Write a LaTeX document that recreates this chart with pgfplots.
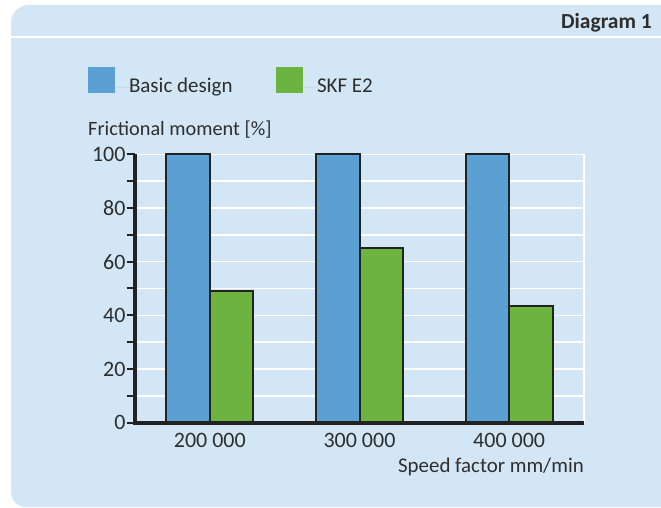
\documentclass[border=0pt]{standalone}
\usepackage{fontspec}
\setmainfont{Carlito}
\usepackage{pgfplots}
\pgfplotsset{compat=1.18}
\definecolor{panel}{HTML}{D2E6F5}
\definecolor{barblue}{HTML}{5AA0D2}
\definecolor{bargreen}{HTML}{6DB33F}
\definecolor{txt}{HTML}{2E2E2E}
\definecolor{axline}{HTML}{222222}
\pgfplotsset{sqlegend/.style={legend image code/.code={%
  \fill[##1, draw=none] (0pt,-5pt) rectangle (27pt,21pt);
  \path[draw=none] (0pt,0pt) -- (41pt,0pt);}}}
\begin{document}
\begin{tikzpicture}[x=1pt,y=1pt]
\fill[white] (0,0) rectangle (661,508);
\fill[panel] (661,1) -- (26,1) arc[start angle=270,end angle=180,radius=15] -- (11,485) arc[start angle=180,end angle=90,radius=18] -- (661,503) -- cycle;
\fill[white] (11,470) rectangle (661,472);
\node[anchor=base east, font=\fontsize{21.5}{24}\selectfont\bfseries, text=txt, inner sep=0pt] at (652,479.7) {Diagram 1};
\begin{axis}[
  clip=false,
  at={(135pt,85.3pt)}, anchor=south west,
  scale only axis, width=449pt, height=268.4pt,
  xmin=-0.5, xmax=2.5, ymin=0, ymax=100,
  ybar=0pt, bar width=0.29,
  axis x line*=bottom, axis y line*=left,
  axis line style={line width=3.8pt, draw=axline, -},
  after end axis/.code={\draw[line width=3.8pt, draw=axline] (rel axis cs:0,1) -- (rel axis cs:0,0) -- (rel axis cs:1,0);},
  /pgf/number format/assume math mode=true,
  ytick={0,20,...,100}, minor ytick={10,30,50,70,90},
  tick align=outside, major tick length=8.3pt, minor tick length=3.3pt,
  ytick style={line width=2pt, draw=axline},
  minor y tick style={line width=2pt, draw=axline},
  extra y ticks={10,20,...,100}, extra y tick labels={},
  extra y tick style={ymajorgrids=true, tick style={draw=none}, major grid style={white, line width=1.5pt}},
  xtick={0,1,2}, xticklabels={200 000,300 000,400 000},
  x tick style={draw=none},
  extra x ticks={2.5}, extra x tick labels={},
  extra x tick style={xmajorgrids=true, major grid style={white, line width=1.5pt}},
  tick label style={font=\fontsize{22}{24}\selectfont, text=txt},
  yticklabel style={inner sep=1pt},
  xticklabel style={inner sep=0pt, yshift=-2pt},
  ylabel={Frictional moment [\%]},
  ylabel style={rotate=-90, at={(rel axis cs:0,1)}, anchor=base west, xshift=-47pt, yshift=18.3pt, inner sep=0pt, font=\fontsize{20.3}{24}\selectfont, text=txt},
  xlabel={Speed factor mm/min},
  xlabel style={at={(rel axis cs:1,0)}, anchor=base east, yshift=-50.3pt, inner sep=0pt, font=\fontsize{20.9}{24}\selectfont, text=txt},
  legend columns=2, legend cell align=left,
  legend style={at={(-0.10468,1.32526)}, anchor=north west, draw=none, fill=none, inner sep=0pt, outer sep=0pt, column sep=0pt, row sep=0pt,
    nodes={inner sep=0pt, outer sep=0pt, text height=15pt, text depth=5pt, font=\fontsize{21}{24}\selectfont, text=txt}},
  every axis plot post/.append style={sqlegend},
]
\addplot[fill=barblue, draw=axline, line width=2pt, sqlegend] coordinates {(0,100) (1,100) (2,100)};
\addplot[fill=bargreen, draw=axline, line width=2pt, sqlegend] coordinates {(0,49) (1,65) (2,43.5)};
\legend{\makebox[147pt][l]{Basic design}, SKF E2}
\end{axis}
\end{tikzpicture}
\end{document}
